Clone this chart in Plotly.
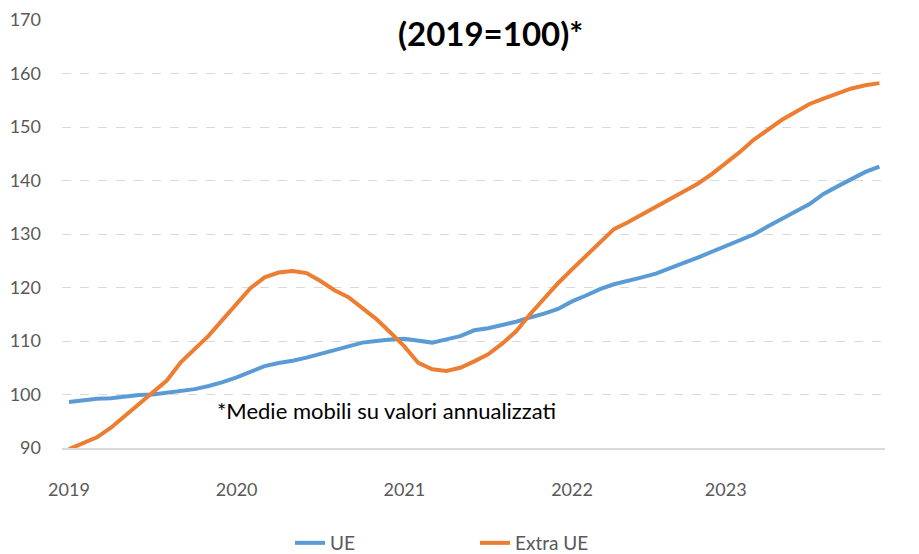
import plotly.graph_objects as go

# month index (Jan 2019 = 0)
months = list(range(59))

ue = [98.6, 98.9, 99.2, 99.3, 99.6, 99.9, 100.0, 100.3, 100.6, 101.0,
      101.6, 102.3, 103.2, 104.3, 105.3, 105.9, 106.3, 106.9, 107.6, 108.4,
      109.1, 109.7, 110.0, 110.3, 110.4, 110.1, 109.7, 110.3, 110.9, 112.0,
      112.4, 113.0, 113.6, 114.4, 115.1, 116.0, 117.4, 118.5, 119.7, 120.6,
      121.2, 121.9, 122.6, 123.7, 124.6, 125.6, 126.7, 127.7, 128.7, 129.9,
      131.4, 132.9, 134.2, 135.6, 137.5, 138.9, 140.3, 141.6, 142.6]

extra_ue = [89.8, 90.8, 92.0, 93.8, 96.0, 98.2, 100.4, 102.6, 106.0, 108.4,
            111.0, 114.0, 117.0, 119.9, 121.9, 122.8, 123.1, 122.7, 121.2, 119.5,
            118.2, 116.2, 114.1, 111.6, 109.0, 105.9, 104.7, 104.4, 105.0, 106.2,
            107.5, 109.5, 111.8, 115.0, 117.9, 120.8, 123.4, 125.9, 128.6, 130.9,
            132.2, 133.6, 135.1, 136.6, 138.0, 139.4, 141.2, 143.2, 145.3, 147.6,
            149.5, 151.3, 152.8, 154.3, 155.3, 156.2, 157.2, 157.8, 158.2]

year_tick_pos = [0, 12, 24, 36, 47]
year_labels = ["2019", "2020", "2021", "2022", "2023"]
y_ticks = [90, 100, 110, 120, 130, 140, 150, 160, 170]

FONT = "Lato"
OFF = 8  # default page body margin
W, H = 919 - OFF, 554 - OFF
L, T = 62 - OFF, 20 - OFF
R = W - (885 - OFF)
B = H - (448 - OFF)
PW, PH = W - L - R, H - T - B

def px(xs):
    return (xs - OFF - L) / PW

def py(ys):
    return (H - B - (ys - OFF)) / PH

fig = go.Figure()
fig.add_trace(go.Scatter(x=months, y=ue, mode="lines", name="UE",
                         line=dict(color="#5B9BD5", width=4)))
fig.add_trace(go.Scatter(x=months, y=extra_ue, mode="lines", name="Extra UE",
                         line=dict(color="#ED7D31", width=4)))

fig.update_layout(
    width=W, height=H,
    margin=dict(l=L, r=R, t=T, b=B, autoexpand=False),
    paper_bgcolor="white", plot_bgcolor="white",
    font=dict(family=FONT, color="#595959", size=18),
    showlegend=True,
    legend=dict(orientation="h", x=px(290), xanchor="left", y=py(543), yanchor="middle",
                font=dict(size=19, color="#595959"), entrywidth=140,
                bgcolor="rgba(0,0,0,0)"),
    xaxis=dict(range=[-0.5, 58.4], tickmode="array", tickvals=year_tick_pos,
               ticktext=year_labels, showgrid=False, zeroline=False,
               showline=True, linecolor="#D9D9D9", linewidth=1.5, ticks="",
               automargin=False,
               ticklabelstandoff=25, tickfont=dict(size=18, color="#595959")),
    yaxis=dict(range=[90, 170], tickmode="array", tickvals=y_ticks,
               showgrid=True, gridcolor="#D9D9D9", griddash="dash", gridwidth=1.2,
               zeroline=False, showline=False, ticks="", automargin=False,
               ticklabelstandoff=20, tickfont=dict(size=18, color="#595959")),
    annotations=[
        dict(text="<b>(2019=100)*</b>", x=px(490), y=py(33), xref="paper", yref="paper",
             xanchor="center", yanchor="middle",
             showarrow=False, font=dict(size=33, color="black", family=FONT)),
        dict(text="*Medie mobili su valori annualizzati", x=px(386), y=py(410),
             xref="paper", yref="paper", xanchor="center", yanchor="middle",
             showarrow=False, font=dict(size=22, color="black", family=FONT)),
    ],
)

fig.write_html("out.html")
